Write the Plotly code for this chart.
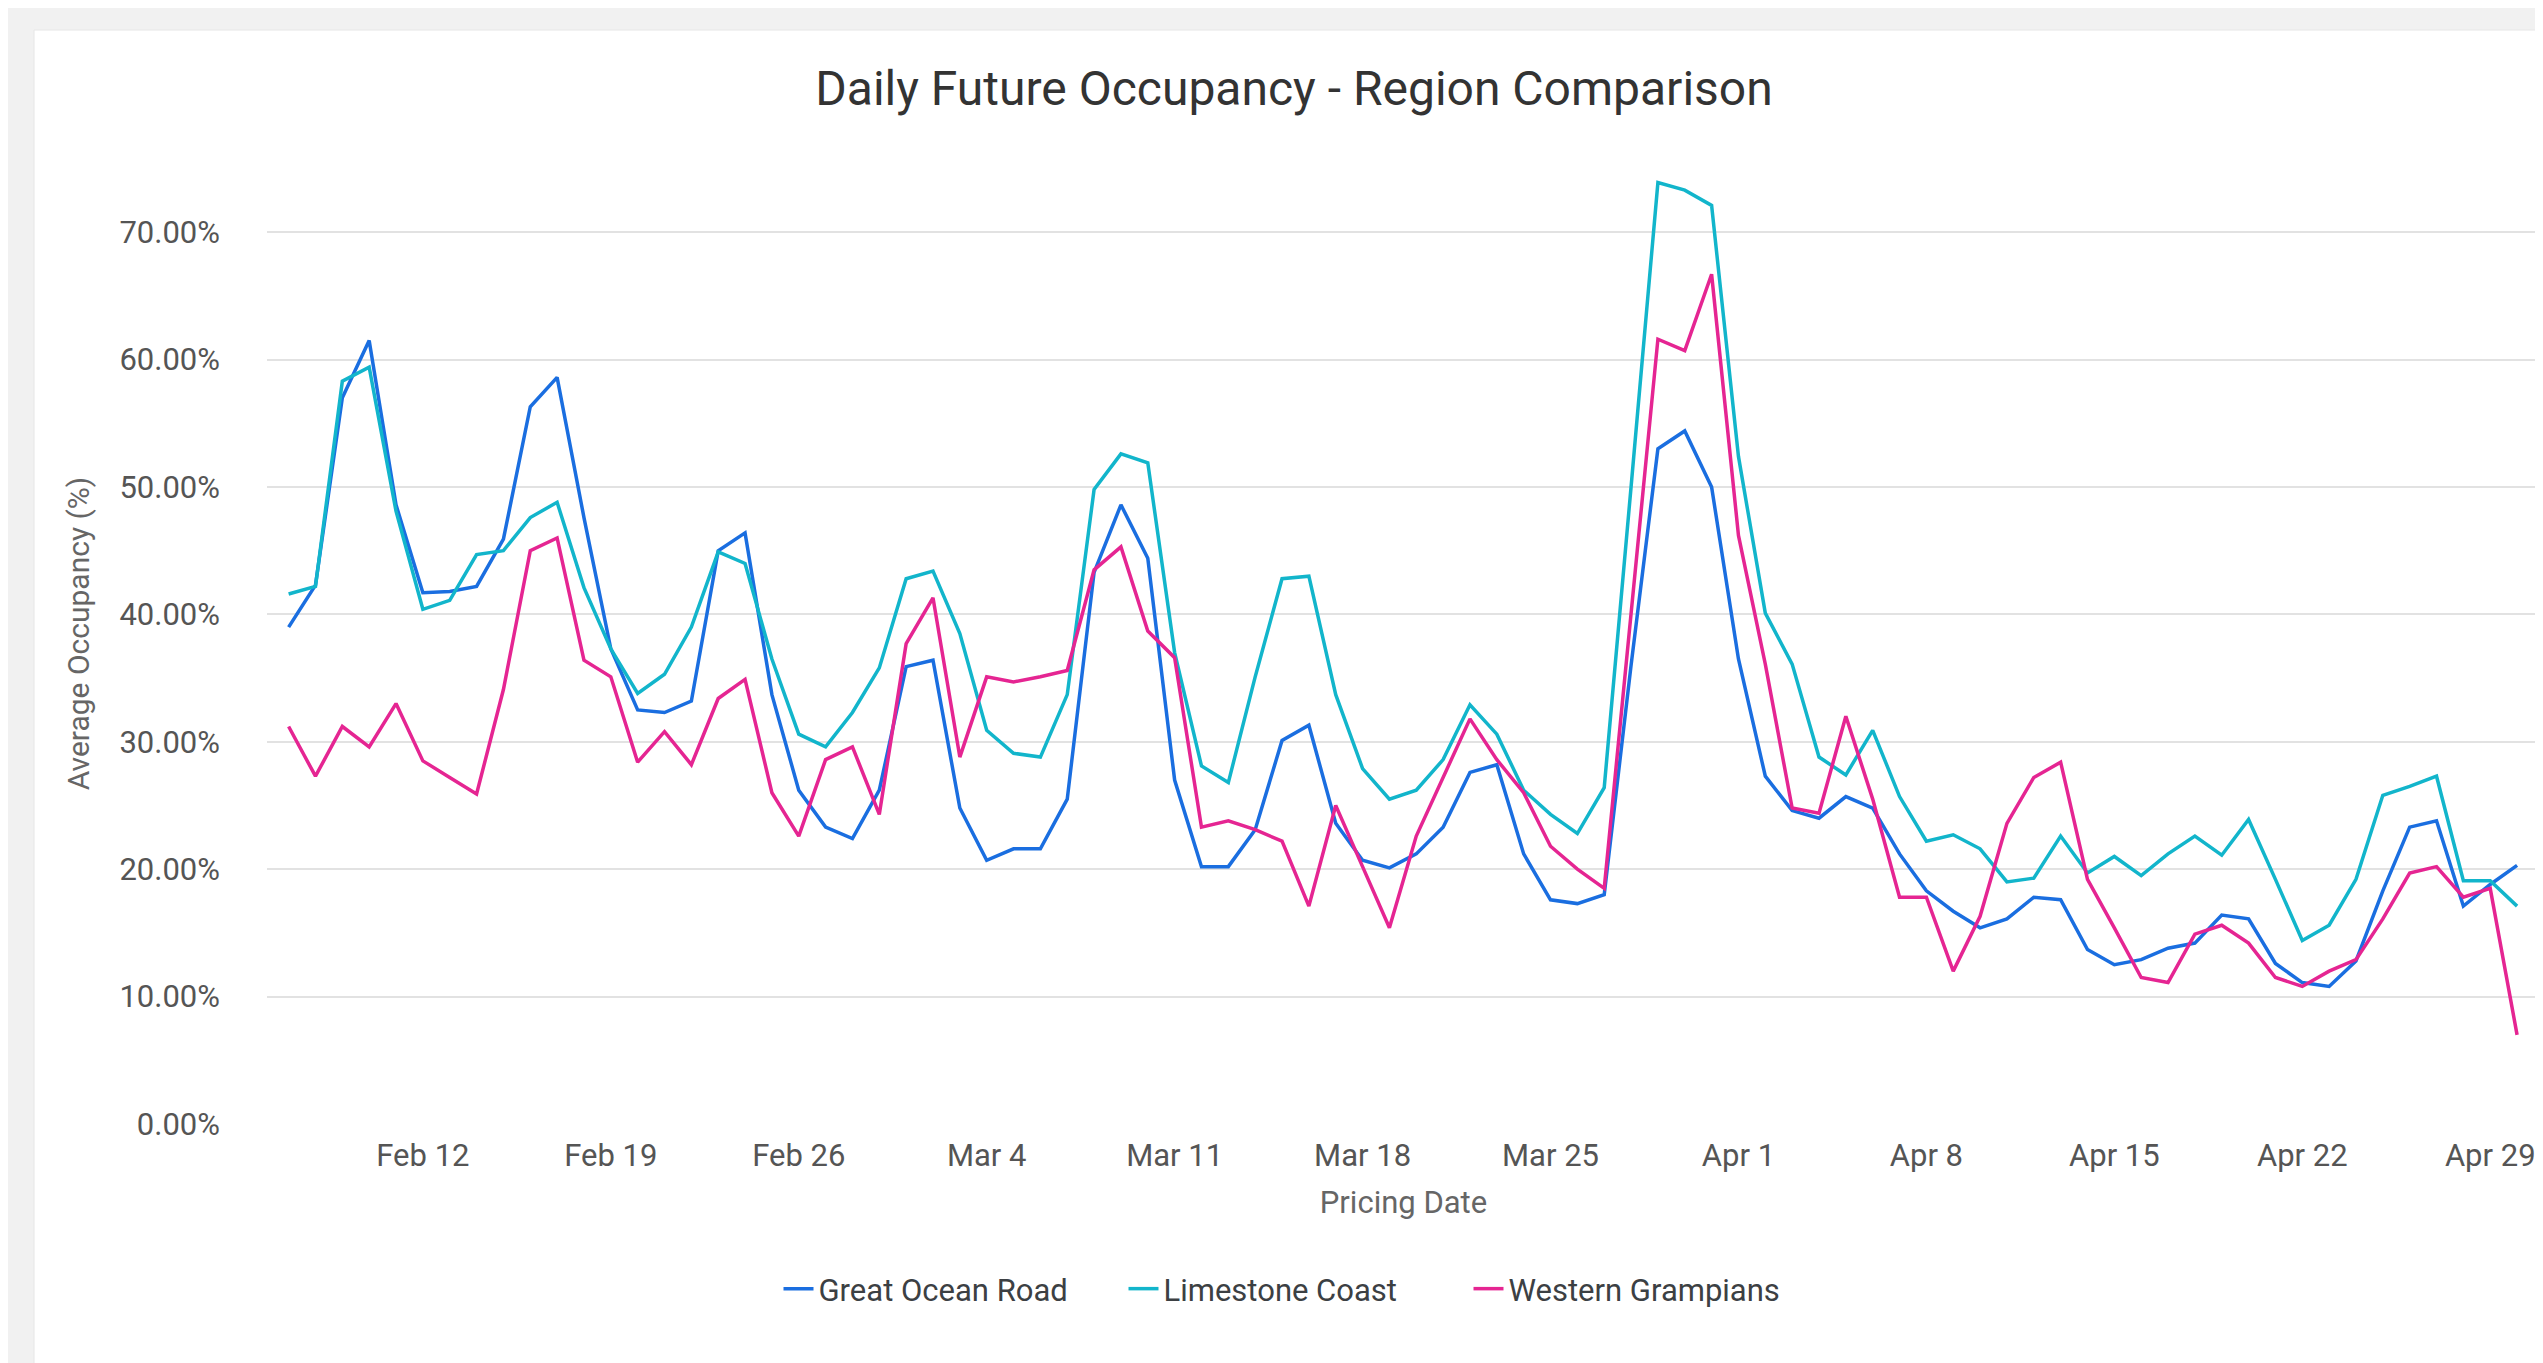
"""
Daily future occupancy - region comparison line chart.
"""

import pandas as pd
import plotly.graph_objects as go


# daily points, 7 Feb 2024 .. 30 Apr 2024
dates = pd.date_range("2024-02-07", "2024-04-30", freq="D")

great_ocean_road = [
    39.0, 42.3, 57.0, 61.5, 48.6, 41.7, 41.8, 42.2, 45.9, 56.3,
    58.6, 47.6, 37.3, 32.5, 32.3, 33.2, 45.0, 46.4, 33.7, 26.2,
    23.3, 22.4, 26.2, 35.9, 36.4, 24.8, 20.7, 21.6, 21.6, 25.5,
    43.3, 48.6, 44.4, 27.0, 20.2, 20.2, 23.1, 30.1, 31.3, 23.6,
    20.7, 20.1, 21.2, 23.3, 27.6, 28.2, 21.2, 17.6, 17.3, 18.0,
    36.0, 53.0, 54.4, 50.0, 36.5, 27.3, 24.6, 24.0, 25.7, 24.8,
    21.2, 18.3, 16.7, 15.4, 16.1, 17.8, 17.6, 13.7, 12.5, 12.9,
    13.8, 14.2, 16.4, 16.1, 12.6, 11.1, 10.8, 12.8, 18.3, 23.3,
    23.8, 17.1, 18.8, 20.3,
]

limestone_coast = [
    41.6, 42.2, 58.3, 59.4, 48.1, 40.4, 41.1, 44.7, 45.0, 47.6,
    48.8, 42.1, 37.3, 33.8, 35.3, 39.0, 44.9, 44.0, 36.5, 30.6,
    29.6, 32.3, 35.8, 42.8, 43.4, 38.5, 30.9, 29.1, 28.8, 33.7,
    49.8, 52.6, 51.9, 37.0, 28.1, 26.8, 35.1, 42.8, 43.0, 33.7,
    27.9, 25.5, 26.2, 28.6, 32.9, 30.6, 26.2, 24.3, 22.8, 26.4,
    50.0, 73.9, 73.3, 72.1, 52.4, 40.1, 36.1, 28.8, 27.4, 30.9,
    25.7, 22.2, 22.7, 21.6, 19.0, 19.3, 22.6, 19.7, 21.0, 19.5,
    21.2, 22.6, 21.1, 23.9, 19.2, 14.4, 15.6, 19.2, 25.8, 26.5,
    27.3, 19.1, 19.1, 17.1,
]

western_grampians = [
    31.2, 27.3, 31.2, 29.6, 33.0, 28.5, 27.2, 25.9, 34.1, 45.0,
    46.0, 36.4, 35.1, 28.4, 30.8, 28.2, 33.4, 34.9, 26.0, 22.6,
    28.6, 29.6, 24.3, 37.7, 41.3, 28.8, 35.1, 34.7, 35.1, 35.6,
    43.5, 45.3, 38.7, 36.6, 23.3, 23.8, 23.1, 22.2, 17.1, 25.0,
    20.2, 15.4, 22.6, 27.2, 31.8, 28.6, 26.0, 21.8, 20.0, 18.5,
    40.0, 61.6, 60.7, 66.7, 46.2, 36.1, 24.8, 24.4, 32.0, 25.5,
    17.8, 17.8, 12.0, 16.3, 23.6, 27.2, 28.4, 19.2, 15.4, 11.5,
    11.1, 14.9, 15.6, 14.2, 11.5, 10.8, 12.0, 12.9, 16.1, 19.7,
    20.2, 17.8, 18.5, 7.0,
]

series_names = ["Great Ocean Road", "Limestone Coast", "Western Grampians"]
series_colors = ["#1a6ee0", "#12b5cb", "#e52592"]

tick_dates = pd.date_range("2024-02-12", "2024-04-29", freq="7D")
tick_labels = ["Feb 12", "Feb 19", "Feb 26", "Mar 4", "Mar 11", "Mar 18",
               "Mar 25", "Apr 1", "Apr 8", "Apr 15", "Apr 22", "Apr 29"]
y_ticks = [0, 10, 20, 30, 40, 50, 60, 70]
y_tick_labels = ["0.00%", "10.00%", "20.00%", "30.00%",
                 "40.00%", "50.00%", "60.00%", "70.00%"]

W, H = 2543, 1363
L, R, T, B = 259, 11, 135, 247
FONT = "Roboto, Arial, sans-serif"


def create_occupancy_chart() -> go.Figure:
    fig = go.Figure()

    for name, values, color in zip(series_names,
                                   [great_ocean_road, limestone_coast, western_grampians],
                                   series_colors):
        fig.add_trace(go.Scatter(
            x=dates,
            y=values,
            mode='lines',
            name=name,
            line=dict(color=color, width=3.5)
        ))

    # white card on a light grey page
    pw, ph = W - L - R, H - T - B
    fig.add_shape(
        type='rect', xref='paper', yref='paper', layer='below',
        x0=(26 - L) / pw, x1=(W + 20 - L) / pw,
        y0=-(H + 20 - T - ph) / ph, y1=(H - B - 22) / ph,
        fillcolor='white', line=dict(color='#e6e6e6', width=1)
    )

    fig.update_layout(
        width=W,
        height=H,
        margin=dict(l=L, r=R, t=T, b=B),
        paper_bgcolor='#f1f1f1',
        plot_bgcolor='white',
        font=dict(family=FONT, size=31, color='#5f6368'),
        title=dict(
            text="Daily Future Occupancy - Region Comparison",
            font=dict(size=48, color='#333333'),
            xref='container', yref='container',
            x=1286 / W, y=1 - 80 / H,
            xanchor='center', yanchor='middle'
        ),
        xaxis=dict(
            range=["2024-02-06 04:40", "2024-04-30 20:30"],
            tickvals=tick_dates,
            ticktext=tick_labels,
            showgrid=False,
            zeroline=False,
            showline=False,
            ticks='',
            ticklabelstandoff=10,
            tickfont=dict(size=31, color='#555555'),
            title=dict(text="Pricing Date", font=dict(size=31, color='#666666'),
                       standoff=18)
        ),
        yaxis=dict(
            range=[0, 77],
            tickvals=y_ticks,
            ticktext=y_tick_labels,
            showgrid=True,
            gridcolor='#e2e2e2',
            gridwidth=1.5,
            zeroline=False,
            showline=False,
            ticks='',
            ticklabelstandoff=46,
            tickfont=dict(size=31, color='#555555'),
            title=dict(text="Average Occupancy (%)", font=dict(size=30, color='#666666'),
                       standoff=20)
        ),
        legend=dict(
            orientation='h',
            xref='container', yref='container',
            x=1288 / W, y=1 - 1281 / H,
            xanchor='center', yanchor='middle',
            entrywidth=300,
            font=dict(size=31, color='#3c4043'),
            bgcolor='rgba(0,0,0,0)'
        ),
        showlegend=True
    )

    return fig


fig = create_occupancy_chart()
fig.write_html("out.html")
